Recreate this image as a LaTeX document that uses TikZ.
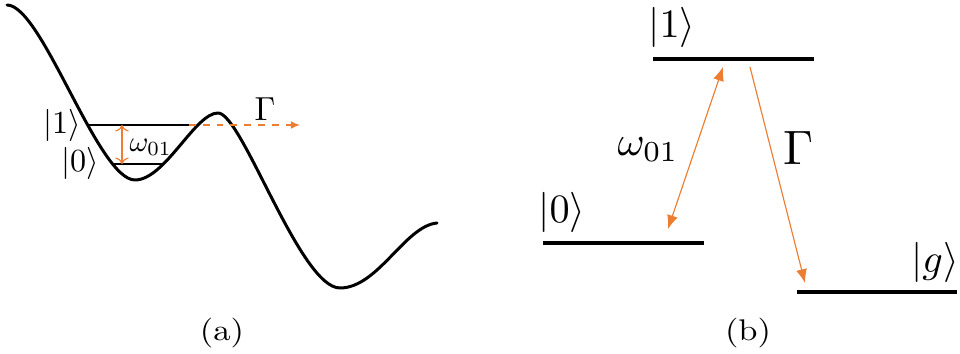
\documentclass[tikz,border=0pt]{standalone}
\usepackage{amsmath,amssymb}
\usepackage{xcolor}
\usepackage{tikz}
\usetikzlibrary{arrows.meta, positioning, calc}
\definecolor{orng}{HTML}{ED7D31}
\tikzset{
  pot/.style    = {line width=1.3pt, line join=round, line cap=round},
  lvl/.style    = {line width=0.9pt},
  blvl/.style   = {line width=2pt},
  warrow/.style = {draw=orng, line width=0.5pt, {To[length=2.8pt]}-{To[length=2.8pt]}},
  darrow/.style = {draw=orng, line width=0.6pt, dashed, -{Latex[length=4pt, width=3.4pt]}},
  barrow/.style = {draw=orng, line width=0.5pt, -{Latex[length=6pt, width=4.8pt]}},
  bbarrow/.style= {draw=orng, line width=0.5pt, {Latex[length=6pt, width=4.8pt]}-{Latex[length=6pt, width=4.8pt]}},
  lbl/.style    = {inner sep=0pt},
  captxt/.style = {inner sep=0pt, xscale=1.5, yscale=1.3},
}
\begin{document}
\begin{tikzpicture}[x=0.435pt, y=0.435pt]
  \useasboundingbox (0,0) rectangle (960,354);
  % (a) potential well
  \coordinate (p0) at (7,349);
  \coordinate (m1) at (135,174);
  \coordinate (t1) at (218,241);
  \coordinate (m2) at (340,66);
  \coordinate (pe) at (437,131);
  \draw[pot] (p0) .. controls (42,349) and (98,174) .. (m1)
                  .. controls (165,174) and (195,241) .. (t1)
                  .. controls (242,241) and (300,66) .. (m2)
                  .. controls (378,66) and (405,128) .. (pe);
  \coordinate (a1l) at (89,229);
  \coordinate (a1r) at (196,229);
  \coordinate (a0l) at (112,190);
  \coordinate (a0r) at (162,190);
  \draw[lvl] (a1l) -- (a1r);
  \draw[lvl] (a0l) -- (a0r);
  \node[lbl, scale=1.4] (ka1) at (62,229) {$|1\rangle$};
  \node[lbl, scale=1.4] (ka0) at (80,191) {$|0\rangle$};
  \coordinate (wt) at (122,229);
  \coordinate (wb) at (122,190);
  \draw[warrow] (wb) -- (wt);
  \node[lbl, scale=1.25, anchor=west] (wa) at (129,207) {$\omega_{01}$};
  \coordinate (gs) at (189,229);
  \coordinate (ge) at (300,229);
  \draw[darrow] (gs) -- (ge);
  \node[lbl, scale=1.45] (ga) at (265,245) {$\Gamma$};
  \node[captxt] (capa) at (222,21) {(a)};
  % (b) level scheme
  \coordinate (b1l) at (653,295);
  \coordinate (b1r) at (814,295);
  \coordinate (b0l) at (543,111);
  \coordinate (b0r) at (704,111);
  \coordinate (bgl) at (797,62);
  \coordinate (bgr) at (957,62);
  \foreach \a/\b in {b1l/b1r,b0l/b0r,bgl/bgr}
    \draw[blvl] (\a) -- (\b);
  \node[lbl, scale=1.75] (kb1) at (672,327) {$|1\rangle$};
  \node[lbl, scale=1.75] (kb0) at (562,142) {$|0\rangle$};
  \node[lbl, scale=1.75] (kbg) at (935,92) {$|g\rangle$};
  \coordinate (w1) at (723,287);
  \coordinate (w0) at (668,125);
  \draw[bbarrow] (w0) -- (w1);
  \node[lbl, scale=1.8] (wb1) at (648,204) {$\omega_{01}$};
  \coordinate (g1) at (750,287);
  \coordinate (g0) at (805,71);
  \draw[barrow] (g1) -- (g0);
  \node[lbl, scale=2.1] (gb) at (799,206) {$\Gamma$};
  \node[captxt] (capb) at (748,21) {(b)};
\end{tikzpicture}
\end{document}
